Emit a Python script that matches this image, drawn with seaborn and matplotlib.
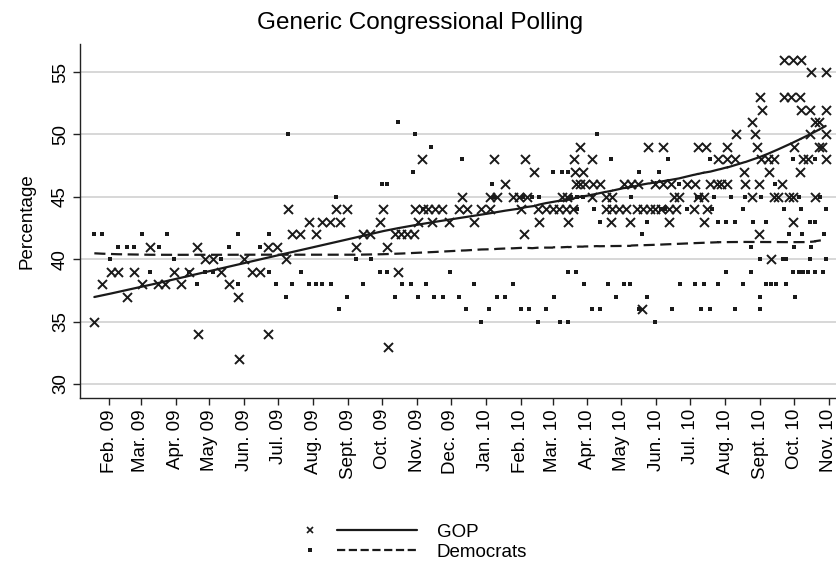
import numpy as np
import pandas as pd
import seaborn as sns
import matplotlib.pyplot as plt
from matplotlib.lines import Line2D
from matplotlib.legend_handler import HandlerBase

# dias desde 01/01/2009 e percentual de cada pesquisa
gop_day = [18, 25, 33, 39, 47, 53, 60, 67, 74, 81, 89, 95, 102, 109, 110, 116, 123, 130, 137, 145,
           146, 151, 158, 165, 172, 172, 180, 188, 190, 193, 200, 208, 214, 220, 227, 232, 236, 242, 250, 256,
           262, 271, 274, 277, 278, 284, 287, 290, 295, 301, 302, 305, 308, 309, 314, 317, 320, 326, 332, 341,
           344, 348, 354, 361, 369, 369, 372, 375, 382, 389, 394, 396, 399, 400, 401, 408, 411, 412, 418, 424,
           430, 432, 436, 437, 438, 442, 443, 444, 445, 448, 448, 451, 453, 459, 460, 459, 466, 471, 471, 476,
           477, 477, 483, 489, 487, 493, 494, 499, 500, 503, 504, 509, 510, 515, 515, 520, 522, 522, 527, 527,
           529, 532, 533, 536, 543, 549, 550, 553, 553, 558, 558, 560, 561, 564, 570, 571, 573, 579, 579, 579,
           586, 587, 594, 595, 601, 601, 603, 605, 607, 607, 608, 609, 610, 615, 616, 618, 620, 620, 624, 627,
           629, 629, 634, 635, 637, 637, 637, 638, 643, 643, 644, 644, 646, 650, 652, 652, 653, 657, 657, 660,
           660, 663, 666, 666, 666, 666]
gop_pct = [35, 38, 39, 39, 37, 39, 38, 41, 38, 38, 39, 38, 39, 41, 34, 40, 40, 39, 38, 37,
           32, 40, 39, 39, 41, 34, 41, 40, 44, 42, 42, 43, 42, 43, 43, 44, 43, 44, 41, 42,
           42, 43, 44, 41, 33, 42, 39, 42, 42, 42, 44, 43, 48, 44, 44, 43, 44, 44, 43, 44,
           45, 44, 43, 44, 44, 45, 48, 45, 46, 45, 45, 44, 42, 48, 45, 47, 44, 43, 44, 44,
           44, 45, 44, 45, 43, 44, 48, 47, 46, 49, 46, 47, 46, 48, 46, 45, 46, 45, 44, 43,
           45, 44, 44, 44, 46, 43, 46, 44, 46, 36, 44, 49, 44, 44, 46, 44, 49, 46, 44, 43,
           46, 45, 44, 45, 46, 44, 46, 49, 45, 45, 43, 49, 44, 46, 46, 48, 46, 49, 46, 48,
           48, 50, 47, 46, 45, 51, 50, 49, 46, 42, 53, 48, 52, 48, 47, 40, 48, 45, 45, 46,
           56, 53, 45, 53, 56, 45, 43, 49, 53, 47, 56, 52, 48, 48, 52, 50, 55, 51, 45, 51,
           49, 49, 55, 52, 50, 48]

dem_day = [18, 25, 32, 39, 47, 53, 60, 67, 75, 82, 89, 102, 109, 116, 123, 130, 137, 145, 145, 165,
           173, 173, 179, 188, 190, 193, 201, 208, 214, 220, 228, 232, 235, 242, 250, 256, 263, 271, 273, 277,
           277, 284, 287, 291, 299, 300, 302, 305, 309, 312, 316, 319, 327, 333, 341, 344, 347, 354, 361, 368,
           370, 372, 375, 382, 389, 396, 398, 403, 406, 411, 412, 418, 424, 425, 431, 432, 438, 438, 438, 440,
           445, 446, 446, 451, 452, 459, 461, 463, 466, 466, 473, 476, 480, 487, 493, 494, 501, 501, 503, 508,
           508, 515, 518, 520, 524, 526, 530, 536, 537, 543, 550, 552, 555, 556, 558, 564, 564, 565, 567, 571,
           571, 578, 578, 582, 586, 586, 593, 593, 595, 600, 600, 602, 608, 608, 608, 609, 613, 613, 618, 621,
           622, 628, 629, 631, 631, 634, 637, 637, 638, 639, 642, 642, 644, 645, 646, 650, 652, 652, 653, 657,
           657, 657, 661, 664, 665, 666, 666]
dem_pct = [42, 42, 40, 41, 41, 41, 42, 39, 41, 42, 40, 39, 38, 39, 39, 40, 41, 42, 38, 41,
           42, 39, 38, 37, 50, 38, 39, 38, 38, 38, 38, 45, 36, 37, 40, 38, 40, 39, 46, 46,
           39, 37, 51, 38, 38, 47, 50, 37, 44, 38, 49, 37, 37, 39, 37, 48, 36, 38, 35, 36,
           46, 45, 37, 37, 38, 36, 45, 36, 45, 35, 45, 36, 47, 37, 35, 47, 47, 35, 39, 45,
           39, 44, 45, 45, 38, 36, 44, 50, 43, 36, 38, 48, 37, 38, 38, 45, 47, 36, 42, 43,
           37, 35, 47, 44, 44, 48, 36, 46, 38, 44, 38, 45, 45, 36, 38, 48, 36, 44, 45, 43,
           38, 43, 39, 45, 43, 36, 44, 38, 45, 41, 39, 43, 40, 37, 36, 45, 43, 38, 38, 46,
           38, 40, 44, 40, 38, 42, 48, 39, 41, 37, 45, 39, 44, 42, 39, 39, 43, 40, 41, 39,
           43, 48, 45, 39, 42, 44, 40]

meses = pd.date_range('2009-02-01', '2010-11-01', freq='MS')
rotulos_meses = ['Feb. 09', 'Mar. 09', 'Apr. 09', 'May 09', 'Jun. 09', 'Jul. 09', 'Aug. 09', 'Sept. 09',
                 'Oct. 09', 'Nov. 09', 'Dec. 09', 'Jan. 10', 'Feb. 10', 'Mar. 10', 'Apr. 10', 'May 10',
                 'Jun. 10', 'Jul. 10', 'Aug. 10', 'Sept. 10', 'Oct. 10', 'Nov. 10']
series = ['GOP', 'Democrats']


# lowess no estilo do Stata (janela centrada, tricubo, sem iteracoes robustas)
def lowess(x, y, bw=0.8):
    x = np.asarray(x, float)
    y = np.asarray(y, float)
    ordem = np.argsort(x, kind='stable')
    x, y = x[ordem], y[ordem]
    n = len(x)
    k = int(np.floor((n * bw - 0.5) / 2))
    fit = np.empty(n)
    for i in range(n):
        lo, hi = max(0, i - k), min(n - 1, i + k)
        xs, ys = x[lo:hi + 1], y[lo:hi + 1]
        delta = 1.0001 * max(x[hi] - x[i], x[i] - x[lo])
        w = (1 - (np.abs(xs - x[i]) / delta) ** 3) ** 3
        xm = np.sum(w * xs) / np.sum(w)
        ym = np.sum(w * ys) / np.sum(w)
        den = np.sum(w * (xs - xm) ** 2)
        b = np.sum(w * (xs - xm) * (ys - ym)) / den if den > 0 else 0
        fit[i] = ym + b * (x[i] - xm)
    return x, fit


# legenda estilo Stata: marcador a esquerda, linha a direita
class MarcadorELinha(HandlerBase):
    def create_artists(self, legend, orig_handle, xdescent, ydescent, width, height, fontsize, trans):
        mk, ln = orig_handle
        y = (height - ydescent) / 2
        m = Line2D([-xdescent + 0.06 * width], [y], marker=mk.get_marker(), markersize=mk.get_markersize(),
                   markeredgewidth=mk.get_markeredgewidth(), color=mk.get_color(), linestyle='none')
        l = Line2D([-xdescent + 0.3 * width, -xdescent + width], [y, y], color=ln.get_color(),
                   linestyle=ln.get_linestyle(), linewidth=ln.get_linewidth())
        m.set_transform(trans)
        l.set_transform(trans)
        return [m, l]


sns.set_style('white')
plt.rcParams['font.family'] = ['Liberation Sans', 'DejaVu Sans']
plt.rcParams['text.color'] = 'black'
plt.rcParams['axes.labelcolor'] = 'black'
plt.rcParams['xtick.color'] = 'black'
plt.rcParams['ytick.color'] = 'black'

fig = plt.figure(figsize=(8.37, 5.63), dpi=100)
ax = fig.add_axes([80 / 837, 1 - 398 / 563, 757 / 837, 354 / 563])

origem = pd.Timestamp('2009-01-01')
dias_ticks = (meses - origem).days

for v in range(30, 60, 5):
    ax.axhline(v, color='#d4d4d4', lw=1.3, zorder=0)

sns.scatterplot(x=gop_day, y=gop_pct, marker='x', s=42, color='#1a1a1a', linewidth=1.4, ax=ax, zorder=3)
sns.scatterplot(x=dem_day, y=dem_pct, marker='s', s=11, color='#1a1a1a', linewidth=0, ax=ax, zorder=3)

gx, gy = lowess(gop_day, gop_pct)
dx, dy = lowess(dem_day, dem_pct)
sns.lineplot(x=gx, y=gy, estimator=None, sort=False, color='#1a1a1a', lw=1.6, ax=ax, zorder=4)
sns.lineplot(x=dx, y=dy, estimator=None, sort=False, color='#1a1a1a', lw=1.6, ax=ax, zorder=4,
             dashes=False, linestyle=(0, (5, 2.5)))

ax.set_xlim(5.3, 676.1)
ax.set_ylim(28.88, 57.25)
ax.set_xticks(dias_ticks)
ax.set_xticklabels(rotulos_meses, rotation=90, fontsize=13.5)
ax.set_yticks(range(30, 60, 5))
ax.set_yticklabels([str(v) for v in range(30, 60, 5)], rotation=90, va='center', fontsize=13.5)
ax.tick_params(axis='both', direction='out', length=5, width=1, color='#222222', pad=3, bottom=True, left=True)
ax.set_ylabel('Percentage', fontsize=13.5, labelpad=12)
ax.set_xlabel('')
for lado in ['top', 'right']:
    ax.spines[lado].set_visible(False)
for lado in ['left', 'bottom']:
    ax.spines[lado].set_color('#222222')
    ax.spines[lado].set_linewidth(1)

fig.text(420 / 837, 1 - 23 / 563, 'Generic Congressional Polling', ha='center', va='center', fontsize=17.5)

h_gop = (Line2D([], [], marker='x', markersize=5, markeredgewidth=1.2, color='#1a1a1a'),
         Line2D([], [], color='#1a1a1a', lw=1.6))
h_dem = (Line2D([], [], marker='s', markersize=3, markeredgewidth=0, color='#1a1a1a'),
         Line2D([], [], color='#1a1a1a', lw=1.6, linestyle=(0, (5, 2.5))))
fig.legend([h_gop, h_dem], series, handler_map={tuple: MarcadorELinha()}, loc='center',
           bbox_to_anchor=(415 / 837, 1 - 542 / 563), frameon=False, fontsize=13.5,
           handlelength=6.1, handletextpad=1.05, labelspacing=0.15)

fig.savefig('out.png', dpi=100)
